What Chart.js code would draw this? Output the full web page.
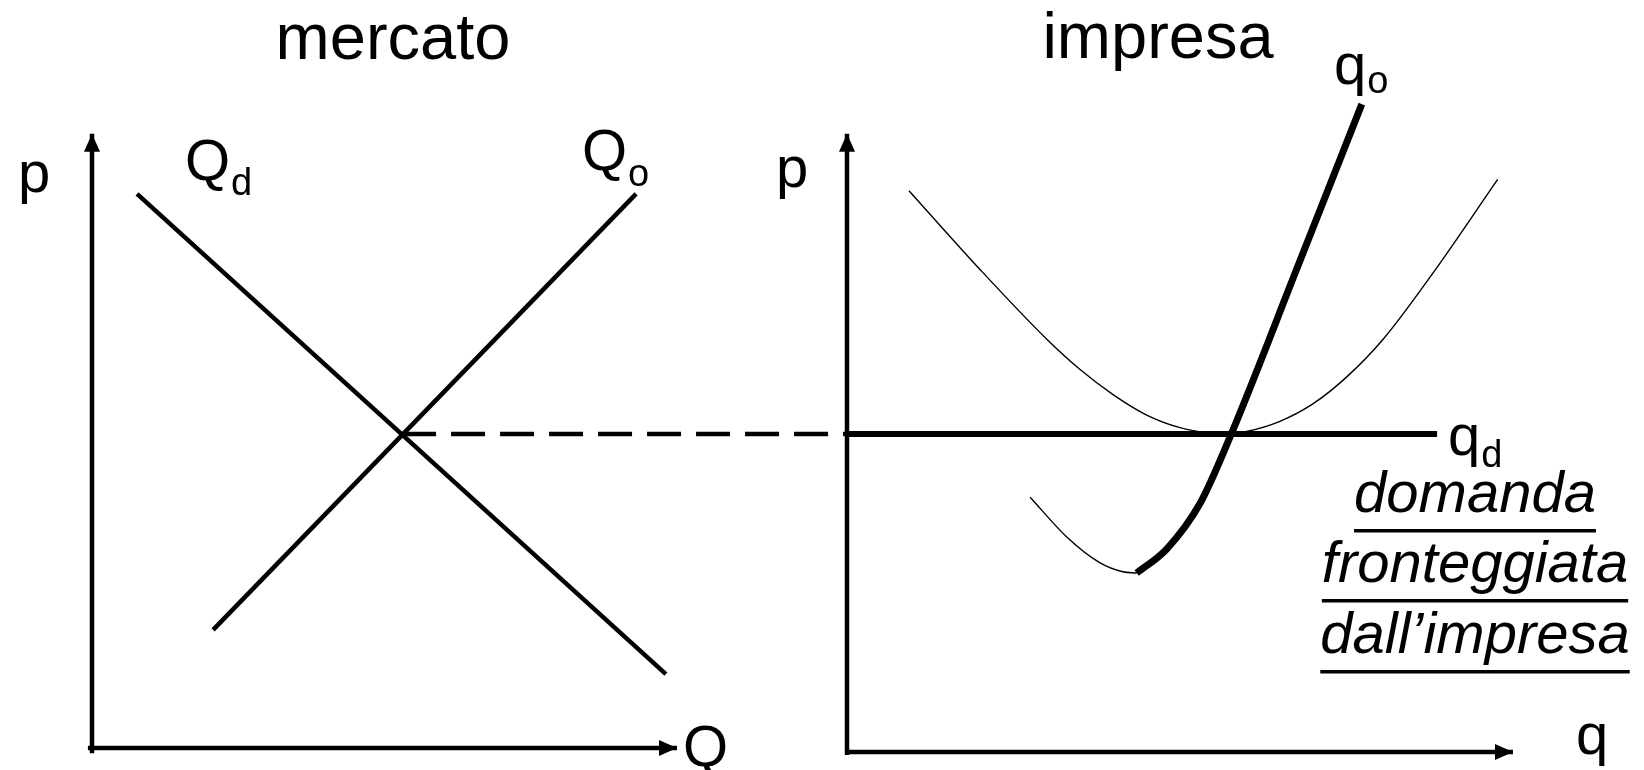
<!DOCTYPE html>
<html>
<head>
<meta charset="utf-8">
<script src="https://cdn.jsdelivr.net/npm/chart.js@4"></script>
<style>
    html, body { margin: 0; padding: 0; background: #FFFFFF; }
    canvas { display: block; }
</style>
</head>
<body>
<canvas id="chartMercatoImpresa" width="1644" height="770"></canvas>
<script>
// mercato (Q, p)
const domandaQ = [0.77, 9.81];
const domandaP = [8.8, 1.2];
const offertaQ = [2.07, 9.30];
const offertaP = [1.9, 8.8];
const equilibrioQ = [5.3, 12.9];   // tratteggio fino all'asse dell'impresa
const equilibrioP = [5, 5];

// impresa (q, p)
const domandaImpresaQ = [0, 8.86];
const domandaImpresaP = [5, 5];
const costoMedioQ = [0.93, 2.0, 3.0, 3.5, 4.0, 4.5, 5.0, 5.4, 5.7, 6.0, 6.5, 7.0, 7.5, 8.05, 8.8, 9.77];
const costoMedioP = [8.85, 7.60, 6.50, 6.02, 5.62, 5.30, 5.10, 5.02, 5.0, 5.04, 5.20, 5.48, 5.90, 6.50, 7.55, 9.03];
const costoVariabileQ = [2.75, 3.3, 3.8, 4.14, 4.35];
const costoVariabileP = [4.00, 3.37, 2.96, 2.82, 2.80];
const costoMarginaleQ = [4.35, 4.8, 5.3, 5.75, 6.76, 7.73];
const costoMarginaleP = [2.80, 3.18, 3.90, 4.95, 7.63, 10.22];

// assi
const asseMercatoX = { q: [-0.07, 10], p: [0.03, 0.03] };
const asseMercatoY = { q: [0, 0], p: [-0.05, 9.75] };
const asseImpresaX = { q: [-0.03, 10], p: [-0.03, -0.03] };
const asseImpresaY = { q: [0, 0], p: [-0.08, 9.75] };

const punti = (xs, ys) => xs.map((x, i) => ({ x: x, y: ys[i] }));

// origine in pixel e pixel per unità dei due pannelli
const W = 1644, H = 770;
const origL = 92, unitL = 58.5;
const origR = 847, unitR = 66.6;
const origP = 750, unitP = 63.2;

const FONT = '"Liberation Sans", Arial, Helvetica, sans-serif';

const etichette = [
    { t: "mercato", x: 393, y: 59, size: 65, align: "center" },
    { t: "impresa", x: 1158, y: 58, size: 65, align: "center" },
    { t: "p", x: 18, y: 192, size: 58 },
    { t: "Q", sub: "d", x: 185, y: 180, sy: 195, size: 58 },
    { t: "Q", sub: "o", x: 582, y: 170, sy: 186, size: 58 },
    { t: "Q", x: 683, y: 766, size: 58 },
    { t: "p", x: 776, y: 187, size: 58 },
    { t: "q", sub: "o", x: 1334, y: 84, sy: 93, size: 58 },
    { t: "q", sub: "d", x: 1448, y: 455, sy: 467, size: 58 },
    { t: "q", x: 1576, y: 754, size: 58 },
    { t: "domanda", x: 1475, y: 512, size: 58, align: "center", italic: true, underline: true },
    { t: "fronteggiata", x: 1475, y: 582, size: 58, align: "center", italic: true, underline: true },
    { t: "dall\u2019impresa", x: 1475, y: 653, size: 58, align: "center", italic: true, underline: true },
];

const linea = (label, xs, ys, asse, w, extra) => Object.assign({
    label: label,
    data: punti(xs, ys),
    xAxisID: asse,
    yAxisID: "y",
    showLine: true,
    borderColor: "#000000",
    borderWidth: w,
    pointRadius: 0,
    fill: false,
    clip: false,
}, extra || {});

const frecce = {
    id: "frecce",
    afterDatasetsDraw(chart) {
        const ctx = chart.ctx;
        chart.data.datasets.forEach((ds, i) => {
            if (!ds.arrow) return;
            const pts = chart.getDatasetMeta(i).data;
            const a = pts[pts.length - 2], b = pts[pts.length - 1];
            const ang = Math.atan2(b.y - a.y, b.x - a.x);
            ctx.save();
            ctx.translate(b.x, b.y);
            ctx.rotate(ang);
            ctx.beginPath();
            ctx.moveTo(0, 0);
            ctx.lineTo(-18, -8);
            ctx.lineTo(-18, 8);
            ctx.closePath();
            ctx.fillStyle = "#000000";
            ctx.fill();
            ctx.restore();
        });
    }
};

const testi = {
    id: "testi",
    afterDraw(chart) {
        const ctx = chart.ctx;
        ctx.save();
        ctx.fillStyle = "#000000";
        ctx.textBaseline = "alphabetic";
        etichette.forEach(e => {
            ctx.font = (e.italic ? "italic " : "") + e.size + "px " + FONT;
            ctx.textAlign = e.align || "left";
            ctx.fillText(e.t, e.x, e.y);
            const w = ctx.measureText(e.t).width;
            if (e.underline) {
                const x0 = e.align === "center" ? e.x - w / 2 : e.x;
                ctx.fillRect(x0, e.y + 17, w, 3.5);
            }
            if (e.sub) {
                const xs = e.align === "center" ? e.x + w / 2 : e.x + w;
                ctx.font = "38px " + FONT;
                ctx.textAlign = "left";
                ctx.fillText(e.sub, xs + 1, e.sy);
            }
        });
        ctx.restore();
    }
};

const grafico = document.getElementById("chartMercatoImpresa");

new Chart(grafico, {
    type: "scatter",
    data: {
        datasets: [
            linea("asse p mercato", asseMercatoY.q, asseMercatoY.p, "xL", 4.5, { arrow: true }),
            linea("asse Q", asseMercatoX.q, asseMercatoX.p, "xL", 4.5, { arrow: true }),
            linea("asse p impresa", asseImpresaY.q, asseImpresaY.p, "xR", 4.5, { arrow: true }),
            linea("asse q", asseImpresaX.q, asseImpresaX.p, "xR", 4.5, { arrow: true }),
            linea("Qd", domandaQ, domandaP, "xL", 4.5),
            linea("Qo", offertaQ, offertaP, "xL", 4.5),
            linea("prezzo", equilibrioQ, equilibrioP, "xL", 4.5, { borderDash: [34, 15] }),
            linea("qd", domandaImpresaQ, domandaImpresaP, "xR", 6),
            linea("costo medio", costoMedioQ, costoMedioP, "xR", 1.4, { cubicInterpolationMode: "monotone" }),
            linea("costo variabile medio", costoVariabileQ, costoVariabileP, "xR", 1.4, { cubicInterpolationMode: "monotone" }),
            linea("qo", costoMarginaleQ, costoMarginaleP, "xR", 7, { cubicInterpolationMode: "monotone" }),
        ]
    },
    options: {
        responsive: false,
        animation: false,
        layout: { padding: 0 },
        plugins: {
            legend: { display: false },
            tooltip: { enabled: false },
        },
        scales: {
            xL: { type: "linear", display: false, min: -origL / unitL, max: (W - origL) / unitL },
            xR: { type: "linear", display: false, min: -origR / unitR, max: (W - origR) / unitR },
            y: { type: "linear", display: false, min: (origP - H) / unitP, max: origP / unitP },
        },
    },
    plugins: [frecce, testi],
});
</script>
</body>
</html>
